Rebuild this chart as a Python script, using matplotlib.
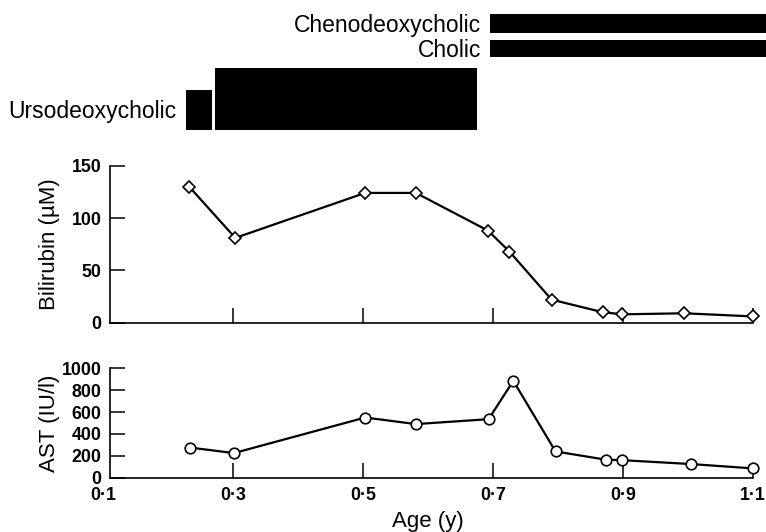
import matplotlib
matplotlib.use("Agg")
import matplotlib.pyplot as plt

plt.rcParams['font.family'] = ['Liberation Sans', 'DejaVu Sans']

# ---- data ----
age_bili = [0.232, 0.303, 0.503, 0.581, 0.692, 0.725, 0.790, 0.869, 0.899, 0.994, 1.100]
bilirubin = [130, 81, 124, 124, 88, 68, 22, 10, 8, 9, 6]

age_ast = [0.234, 0.301, 0.503, 0.581, 0.693, 0.731, 0.796, 0.873, 0.899, 1.004, 1.100]
ast = [275, 225, 550, 490, 535, 885, 240, 165, 160, 125, 85]

treat_labels = ['Chenodeoxycholic', 'Cholic', 'Ursodeoxycholic', '']
treat_start = [0.695, 0.695, 0.227, 0.272]
treat_end = [1.12, 1.12, 0.267, 0.675]

xticks = [0.1, 0.3, 0.5, 0.7, 0.9, 1.1]
xticklabels = ['0·1', '0·3', '0·5', '0·7', '0·9', '1·1']
bili_ticks = [0, 50, 100, 150]
ast_ticks = [0, 200, 400, 600, 800, 1000]

# ---- layout ----
W, H = 766, 532
fig = plt.figure(figsize=(W / 100, H / 100), dpi=100)
left = 103.4 / W
width = 649.6 / W

# treatment bars (rows layout, in px-like units)
bar_bottom = [107, 83, 10, 10]
bar_height = [19, 17, 40, 62]

axt = fig.add_axes([left, 1 - 140 / H, width, 140 / H])
axt.set_xlim(0.1, 1.1)
axt.set_ylim(0, 140)
axt.axis('off')
for lab, s, e, b, h in zip(treat_labels, treat_start, treat_end, bar_bottom, bar_height):
    axt.bar(s, h, width=e - s, bottom=b, align='edge', color='black',
            edgecolor='none', clip_on=False)
    if lab:
        axt.annotate(lab, xy=(s, b + h / 2), xytext=(-6.5, -1.2),
                     textcoords='offset points', ha='right', va='center',
                     fontsize=16.5, color='black')

def style(ax, yticks, ymax):
    ax.set_xlim(0.1, 1.1)
    ax.set_ylim(0, ymax)
    for sp in ['top', 'right']:
        ax.spines[sp].set_visible(False)
    ax.spines['left'].set_position(('data', 0.11))
    ax.spines['bottom'].set_bounds(0.11, 1.1)
    for sp in ['left', 'bottom']:
        ax.spines[sp].set_linewidth(1.2)
    ax.set_xticks(xticks)
    ax.set_yticks(yticks)
    ax.tick_params(direction='in', length=10.5, width=1.1, labelsize=12.8, pad=6)
    ax.xaxis.get_major_ticks()[0].tick1line.set_visible(False)
    for t in ax.get_yticklabels():
        t.set_fontweight('bold')

ax1 = fig.add_axes([left, 1 - 322.7 / H, width, 157 / H])
ax1.plot(age_bili, bilirubin, color='black', lw=1.6, marker='D', ms=6.2,
         mfc='white', mec='black', mew=1.2, clip_on=False, zorder=3)
style(ax1, bili_ticks, 150)
ax1.set_xticklabels([])
ax1.set_ylabel('Bilirubin (µM)', fontsize=16)
ax1.yaxis.set_label_coords(-0.067, 0.5)

ax2 = fig.add_axes([left, 1 - 477.7 / H, width, 109.4 / H])
ax2.plot(age_ast, ast, color='black', lw=1.6, marker='o', ms=7.6,
         mfc='white', mec='black', mew=1.2, clip_on=False, zorder=3)
style(ax2, ast_ticks, 1000)
ax2.set_xticklabels(xticklabels, fontweight='bold')
ax2.tick_params(axis='x', pad=7)
ax2.set_ylabel('AST (IU/l)', fontsize=16)
ax2.yaxis.set_label_coords(-0.067, 0.5)
ax2.set_xlabel('Age (y)', fontsize=16, labelpad=5)

fig.savefig('out.png', dpi=100)
